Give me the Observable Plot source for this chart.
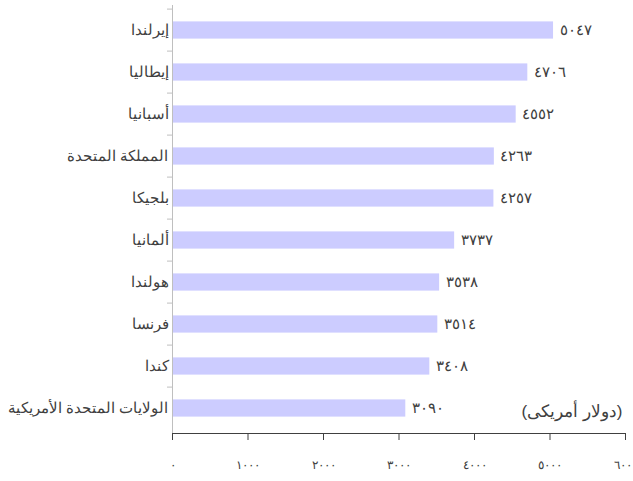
<!DOCTYPE html>
<html>
<head>
<meta charset="utf-8">
<script src="https://cdn.jsdelivr.net/npm/d3@7"></script>
<script src="https://cdn.jsdelivr.net/npm/@observablehq/plot@0.6"></script>
<style>
  html, body { margin: 0; padding: 0; background: #fff; }
  #chart svg { font-family: sans-serif; }
</style>
</head>
<body>
<div id="chart"></div>
<script>
const countries = ["إيرلندا", "إيطاليا", "أسبانيا", "المملكة المتحدة", "بلجيكا", "ألمانيا", "هولندا", "فرنسا", "كندا", "الولايات المتحدة الأمريكية"];
const values = [5047, 4706, 4552, 4263, 4257, 3737, 3538, 3514, 3408, 3090];
const xTicks = [0, 1000, 2000, 3000, 4000, 5000, 6000];
const unitLabel = "(دولار أمريكى)";

const arabicDigits = "٠١٢٣٤٥٦٧٨٩";
const toArabic = n => String(n).replace(/\d/g, d => arabicDigits[+d]);

const data = countries.map((c, i) => ({country: c, value: values[i]}));

const W = 633, H = 481;
const mTop = 5, mBottom = 48, mLeft = 172, mRight = 8;
const step = (H - mTop - mBottom) / countries.length;

const chart = Plot.plot({
  width: W,
  height: H,
  marginTop: mTop,
  marginBottom: mBottom,
  marginLeft: mLeft,
  marginRight: mRight,
  style: {fontSize: "12px", color: "#404040", background: "#fff"},
  x: {domain: [0, 6000], ticks: xTicks, tickFormat: toArabic, tickSize: 7, tickPadding: 20, label: null, line: true},
  y: {domain: countries, padding: 0, label: null, axis: null},
  marks: [
    Plot.barX(data, {x: "value", y: "country", fill: "#ccccff", insetTop: 12.4, insetBottom: 12.4}),
    Plot.ruleY(countries, {y: d => d, x1: -5 * 6000 / (W - mLeft - mRight), x2: 0, dy: -step / 2, stroke: "#bfbfbf"}),
    Plot.ruleX([0], {stroke: "#bfbfbf"}),
    Plot.axisY({tickSize: 0, tickPadding: 4, fontSize: 15, fontWeight: 300, label: null}),
    Plot.text(data, {x: "value", y: "country", text: d => toArabic(d.value), dx: 6, textAnchor: "start", fontSize: 15, fill: "#404040"}),
    Plot.text([unitLabel], {frameAnchor: "bottom-right", dx: -3, dy: -22, lineAnchor: "middle", textAnchor: "end", fontSize: 17, fill: "#404040"})
  ]
});
document.getElementById("chart").appendChild(chart);
</script>
</body>
</html>
